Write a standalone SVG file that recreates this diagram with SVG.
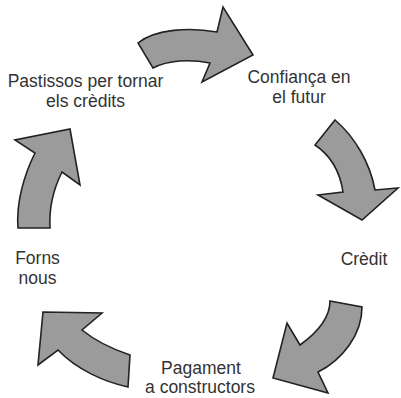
<svg xmlns="http://www.w3.org/2000/svg" width="401" height="398" viewBox="0 0 401 398">
<style>
.arrow{fill:#9b9b9b;stroke:#222;stroke-width:1.6;stroke-linejoin:miter}
.lbl{font-family:"Liberation Sans",Arial,sans-serif;font-size:17.5px;fill:#333;text-anchor:middle}
</style>
<rect width="401" height="398" fill="#fff"/>
<g id="connectors">
<path id="a1" class="arrow" d="M138,43 C155,29 190,27 217,32 L223,7 L253,55 L202,82 L210,63 C190,59 168,60 153,68 Z"/>
<path id="a2" class="arrow" d="M335,120 C355,137 370,163 375,190 L398,188 L362,220 L318,195 L343,192 C340,172 330,155 315,145 Z"/>
<path id="a3" class="arrow" d="M330,301 L362,307 C362,335 342,360 318,372 L328,393 L273,378 L287,323 L300,345 C318,332 330,318 330,301 Z"/>
<path id="a4" class="arrow" d="M43,312 L102,313 L82,330 C98,343 115,350 130,355 L128,387 C105,382 77,370 58,350 L38,365 Z"/>
<path id="a5" class="arrow" d="M70,129 L80,185 L62,172 C53,190 49,210 50,228 L18,228 C16,203 24,175 35,153 L15,140 Z"/>
</g>
<g id="n-pastissos"><text class="lbl" x="85.5" y="87">Pastissos per tornar</text><text class="lbl" x="85.5" y="107">els crèdits</text></g>
<g id="n-confianca"><text class="lbl" x="299" y="83">Confiança en</text><text class="lbl" x="299" y="103">el futur</text></g>
<g id="n-credit"><text class="lbl" x="364" y="265">Crèdit</text></g>
<g id="n-forns"><text class="lbl" x="37.5" y="264">Forns</text><text class="lbl" x="37.5" y="284">nous</text></g>
<g id="n-pagament"><text class="lbl" x="201" y="374">Pagament</text><text class="lbl" x="200" y="393">a constructors</text></g>
</svg>
